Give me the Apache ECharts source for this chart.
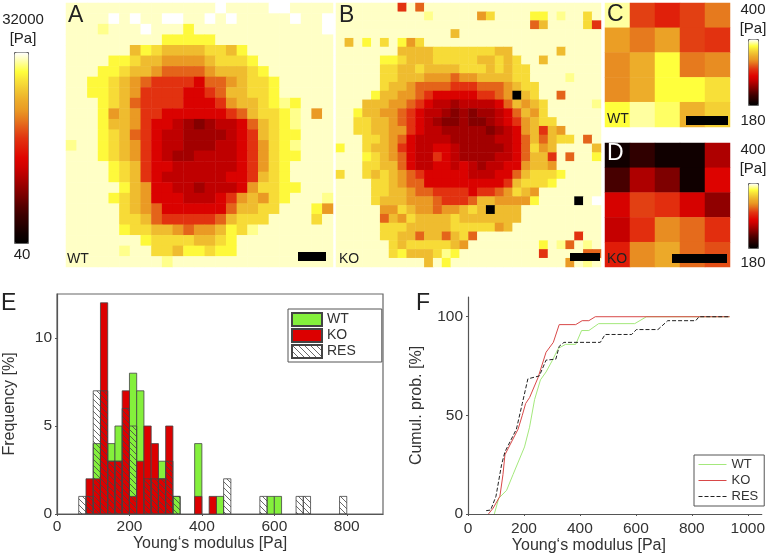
<!DOCTYPE html>
<html><head><meta charset="utf-8">
<style>html,body{margin:0;padding:0;background:#fff}#c{width:768px;height:555px}</style>
<script src="https://cdn.jsdelivr.net/npm/echarts@6/dist/echarts.min.js"></script>
</head><body><div id="c"></div>
<script>
// colour level codes (index into the colour bar, 0-100)
const levelCodes = {l:0,k:27,j:32,i:37,h:43,g:55,f:62,e:70,d:78,c:84,b:89,p:94,'.':97,W:100};
const barColors = ['#000000','#100000','#280000','#3c0000','#580000','#780000','#960000','#b40000','#d00000','#e00400','#e01c08','#e23210','#e35518','#e67a1e','#ea9a24','#edad2a','#f1c632','#f8e038','#ffff3c','#ffffa0','#ffffff'];

const mapA = [
"..............W....WW....",
"....W.W..WW..W.W.....W..W",
"...p...W...b............W",
".........bbbbb...........",
"......dbcddddccdb........",
"....bbcddeeeedcccb.......",
"...bbcddeffffedddcb......",
"..bbcdefgggghffedccb.....",
"..bbcdegggghhgfddccb.....",
"...bcdfgggghhhgeddcbpb...",
"...bedegghhhhhhgfdccbp.e.",
"...bddeghhijkjiihfdcbp...",
"...bcdfghiijjjjihgdcbb...",
"p..bcdeghiijjjiihgecbp...",
"...bcdeghijjiiiihgecbb...",
"....bcdghhiiiiiihgecb....",
"....bcdghiiiiiihhgdcb....",
".....bdehhiijiiiheccbb...",
"....bcdehhhiiihgedecb...p",
".....cdefhhhhhhfddcc...be",
".....ccdfgggggfdccc....c.",
".....bccddefeedbcp.......",
".......bccccddcb.........",
".....p..ccdbbcbb.........",
".........p..............."];

const mapB = [
".......g.f....................",
"..........p.....ec....bb.p..c.",
"......................fd....cg",
".............d................",
".d.b.c.bec....................",
".......ddddcccccccdd.....d....",
".....bbcdddcccccddcdc..d......",
".....ccddcddddcccdcdcc........",
".....ccdddeeefeeddddcc....p...",
".....cddeffffgggfffedcc.......",
"....bddeefghhhhhggfeldc..f....",
"...dddeefghiijiiiihfdedc.....p",
"..bddeefghiijkjkjjihfdec......",
"..ccddefghijkkjkkjihgedcc.....",
"..ccddeeghiijjjjjkjihedgde....",
"...ccdefhiiiijjjjjiihfdfdcc.f.",
"b..cddeghiihhijjjjjihfced....d",
"...bcdefhiighijjjjiihfddg.f..b",
"...ccddfhiihhihijiihhedde.....",
"c..cdcdefghhhhhiiihhfdcccb....",
"....ccdeffhhhhhhhhhgdcccb.....",
"....ccddeffgggghggfecde.......",
"....cdddeeefgggfddeeeeb....l.W",
".....eecdeefeedcdlddd.........",
".....fdecddddcddddddd.........",
".....cccdddddccccced..........",
".....ccddfddfdcf...........g..",
"......cdcccccde........b.pf.p.",
"......cbdddcpb.........g....ff",
"..........d.b.............e.p."];

const mapC = [
[95,57,51,57,65],
[71,65,72,57,55],
[68,75,90,65,68],
[68,75,90,90,85],
[90,95,92,76,82]];

const mapD = [
[5,12,5,5,34],
[17,34,26,5,44],
[42,57,54,42,29],
[38,54,68,63,54],
[50,68,74,63,59]];

// E: histogram, 20 Pa bins
const binStarts = [60,80,100,120,140,160,180,200,220,240,260,280,300,320,380,420,440,460,560,580,600,660,680,780];
const histWT    = [0,0,4,1,4,5,3,8,7,2,2,3,1,1,4,0,1,0,0,1,1,0,0,0];
const histKO    = [0,2,2,12,3,3,7,1,3,5,4,2,5,0,1,1,0,0,0,0,0,0,0,0];
const histRES   = [1,1,7,7,3,3,6,5,0,2,2,2,3,1,0,0,0,2,1,0,0,1,1,1];

// F: cumulative curves
const cumWTx  = [94,110,138,161,202,220,238,259,279,302,323,349,385,406,432,467,596,638,935];
const cumWTy  = [0,8,12,20,34,44,58,68,72,78,84,86,86,93,93,96.5,96.5,100,100];
const cumKOx  = [73,90,114,125,132,150,179,194,206,220,250,279,305,326,385,408,432,455,935];
const cumKOy  = [0,3,9,20,30,35,43,50,56,59,69,82,87,96,96,98,98,100,100];
const cumRESx = [65,81,100,120,132,173,194,214,255,279,314,326,343,473,490,585,602,679,714,814,826,932];
const cumRESy = [1.7,2,9,25,31.5,43,56,68.5,70,78,78.5,85,87,87,91,91,93.5,93.5,98,98,100,100];

const xTitle = 'Young‘s modulus [Pa]';
const FONT = '"Liberation Sans", Arial, sans-serif';
const TXT = '#333';

function cellsFromRows(rows){const o=[];rows.forEach((r,y)=>{for(let x=0;x<r.length;x++)o.push([x,y,levelCodes[r[x]]]);});return o;}
function cellsFromMatrix(m){const o=[];m.forEach((r,y)=>r.forEach((v,x)=>o.push([x,y,v])));return o;}
function pairs(a,b){return a.map((v,i)=>[v,b[i]]);}
function range(n){return Array.from({length:n},(_,i)=>i);}

function hatchTile(){
  const c=document.createElement('canvas');c.width=6;c.height=6;
  const g=c.getContext('2d');g.strokeStyle='#444';g.lineWidth=0.8;
  g.beginPath();g.moveTo(-1,-1);g.lineTo(7,7);g.moveTo(-1,5);g.lineTo(1,7);g.moveTo(5,-1);g.lineTo(7,1);g.stroke();
  return c;
}
const hatch={image:hatchTile(),repeat:'repeat'};
const BW=20;
function barSeries(name,vals,fill,gi){
  return {name,type:'custom',xAxisIndex:gi,yAxisIndex:gi,clip:true,
    itemStyle:{color:fill,borderColor:'#444',borderWidth:0.8},
    data:binStarts.map((b,i)=>[b,vals[i]]).filter(d=>d[1]>0),
    renderItem:(p,api)=>{
      const a=api.coord([api.value(0),0]),b=api.coord([api.value(0)+BW,api.value(1)]);
      return {type:'rect',shape:{x:a[0],y:b[1],width:b[0]-a[0],height:a[1]-b[1]},
        style:{fill:fill,stroke:'#444',lineWidth:0.8}};
    }};
}
function heat(xi,data){return {type:'heatmap',xAxisIndex:xi,yAxisIndex:xi,data,progressive:0,silent:true,itemStyle:{borderWidth:0}};}

const panels=[
 {left:66,top:3,width:267,height:264,n:25},
 {left:336,top:3,width:265,height:264,n:30},
 {left:605,top:3,width:125,height:124,n:5},
 {left:605,top:143,width:125,height:124,n:5}];
const grids=panels.map(p=>({left:p.left,top:p.top,width:p.width,height:p.height,show:false}));
grids.push({left:57,top:294,width:326,height:220,show:true,borderColor:'#666',borderWidth:1.2,backgroundColor:'transparent'});
grids.push({left:468,top:297,width:296,height:217,show:false});

const xAxes=panels.map(p=>({gridIndex:panels.indexOf(p),type:'category',show:false,data:range(p.n)}));
const yAxes=panels.map(p=>({gridIndex:panels.indexOf(p),type:'category',show:false,inverse:true,data:range(p.n)}));
const axLine={show:true,lineStyle:{color:'#555',width:1.2}};
const tick={show:true,length:2,lineStyle:{color:'#555'}};
const lab={color:TXT,fontFamily:FONT,fontSize:15.5,margin:5,showMaxLabel:false,formatter:v=>String(v)};
const labF={color:TXT,fontFamily:FONT,fontSize:15.5,margin:7,formatter:v=>String(v)};
const nameSt=extra=>Object.assign({color:TXT,fontFamily:FONT,fontSize:16},extra||{});
xAxes.push({gridIndex:4,type:'value',min:0,max:900,interval:200,splitLine:{show:false},axisLine:axLine,axisTick:tick,axisLabel:lab,name:xTitle,nameLocation:'middle',nameGap:22,nameTextStyle:nameSt({padding:[0,20,0,0]})});
yAxes.push({gridIndex:4,type:'value',min:0,max:12.5,interval:5,splitLine:{show:false},axisLine:axLine,axisTick:tick,axisLabel:lab,name:'Frequency [%]',nameLocation:'middle',nameGap:39,nameTextStyle:nameSt()});
xAxes.push({gridIndex:5,type:'value',min:0,max:1050,interval:200,splitLine:{show:false},axisLine:axLine,axisTick:tick,axisLabel:labF,name:xTitle,nameLocation:'middle',nameGap:22,nameTextStyle:nameSt({padding:[0,52,0,0]})});
yAxes.push({gridIndex:5,type:'value',min:0,max:110,interval:50,splitLine:{show:false},axisLine:axLine,axisTick:tick,axisLabel:lab,name:'Cumul. prob. [%]',nameLocation:'middle',nameGap:43,nameTextStyle:nameSt()});

function line(name,x,y,color,type){return {name,type:'line',xAxisIndex:5,yAxisIndex:5,symbol:'none',animation:false,clip:true,
  data:pairs(x,y),itemStyle:{color},lineStyle:{color,width:1,type:type||'solid'}};}

const series=[
 heat(0,cellsFromRows(mapA)),
 heat(1,cellsFromRows(mapB)),
 heat(2,cellsFromMatrix(mapC)),
 heat(3,cellsFromMatrix(mapD)),
 barSeries('WT',histWT,'#84f03c',4),
 barSeries('KO',histKO,'#dc0000',4),
 barSeries('RES',histRES,hatch,4),
 line('WT curve',cumWTx,cumWTy,'#a4e87c'),
 line('KO curve',cumKOx,cumKOy,'#d84848'),
 line('RES curve',cumRESx,cumRESy,'#222','dashed')
];
function vm(idx,left,top,w,h){return {type:'continuous',seriesIndex:idx,dimension:2,min:0,max:100,calculable:false,hoverLink:false,
  left,top,itemWidth:w,itemHeight:h,padding:0,borderColor:'#666',borderWidth:1,inRange:{color:barColors},text:null};}

function T(text,x,y,size,opt){return {type:'text',x,y,z:100,silent:true,style:Object.assign({text,fontFamily:FONT,fontSize:size,fill:'#222',textAlign:'left',textVerticalAlign:'middle'},opt||{})};}
function C(text,x,y,size,opt){return T(text,x,y,size,Object.assign({textAlign:'center'},opt||{}));}
function Bar(x,y,w,h){return {type:'rect',z:100,silent:true,shape:{x,y,width:w,height:h},style:{fill:'#000'}};}

const graphic=[
 Bar(298,252,28,9),Bar(570,253,30,8),Bar(686,116,42,9),Bar(672,254,55,9),
 T('A',68,16,23),T('B',339,16,23),T('C',607,15,23),T('D',607,154,23,{fill:'#fff'}),
 T('E',1,304,23),T('F',416,304,23),
 T('WT',67,259,14),T('KO',339,259,14),T('WT',607,119,14),T('KO',607,259,14),
 C('32000',23,20,15),C('[Pa]',23,39,15),C('40',22,255,15),
 C('400',753,10,15),C('[Pa]',753,29,15),C('180',753,121,15),
 C('400',753,150,15),C('[Pa]',753,169,15),C('180',753,263,15)
];

const chart=echarts.init(document.getElementById('c'),null,{renderer:'canvas'});
chart.setOption({
 animation:false,backgroundColor:'#fff',
 textStyle:{fontFamily:FONT},
 grid:grids,xAxis:xAxes,yAxis:yAxes,series,
 visualMap:[vm([0,1],14,52,14,191),vm(2,748,39,10,66),vm(3,748,183,10,65)],
 legend:[
  {data:['WT','KO','RES'],icon:'rect',left:288,top:309,orient:'vertical',selectedMode:false,itemWidth:30,itemHeight:13,itemGap:1,
   padding:[3,26,3,3],borderColor:'#555',borderWidth:1,backgroundColor:'#fff',textStyle:{color:TXT,fontFamily:FONT,fontSize:14}},
  {data:['WT curve','KO curve','RES curve'],left:694,top:455,orient:'vertical',selectedMode:false,itemWidth:28,itemHeight:14,itemGap:3,
   padding:[3,6,3,4],borderColor:'#555',borderWidth:1,backgroundColor:'#fff',formatter:n=>n.split(' ')[0],
   itemStyle:{color:'transparent',borderWidth:0,opacity:0},lineStyle:{width:1,inactiveWidth:1},
   textStyle:{color:TXT,fontFamily:FONT,fontSize:13}}
 ],
 graphic
});
</script></body></html>
